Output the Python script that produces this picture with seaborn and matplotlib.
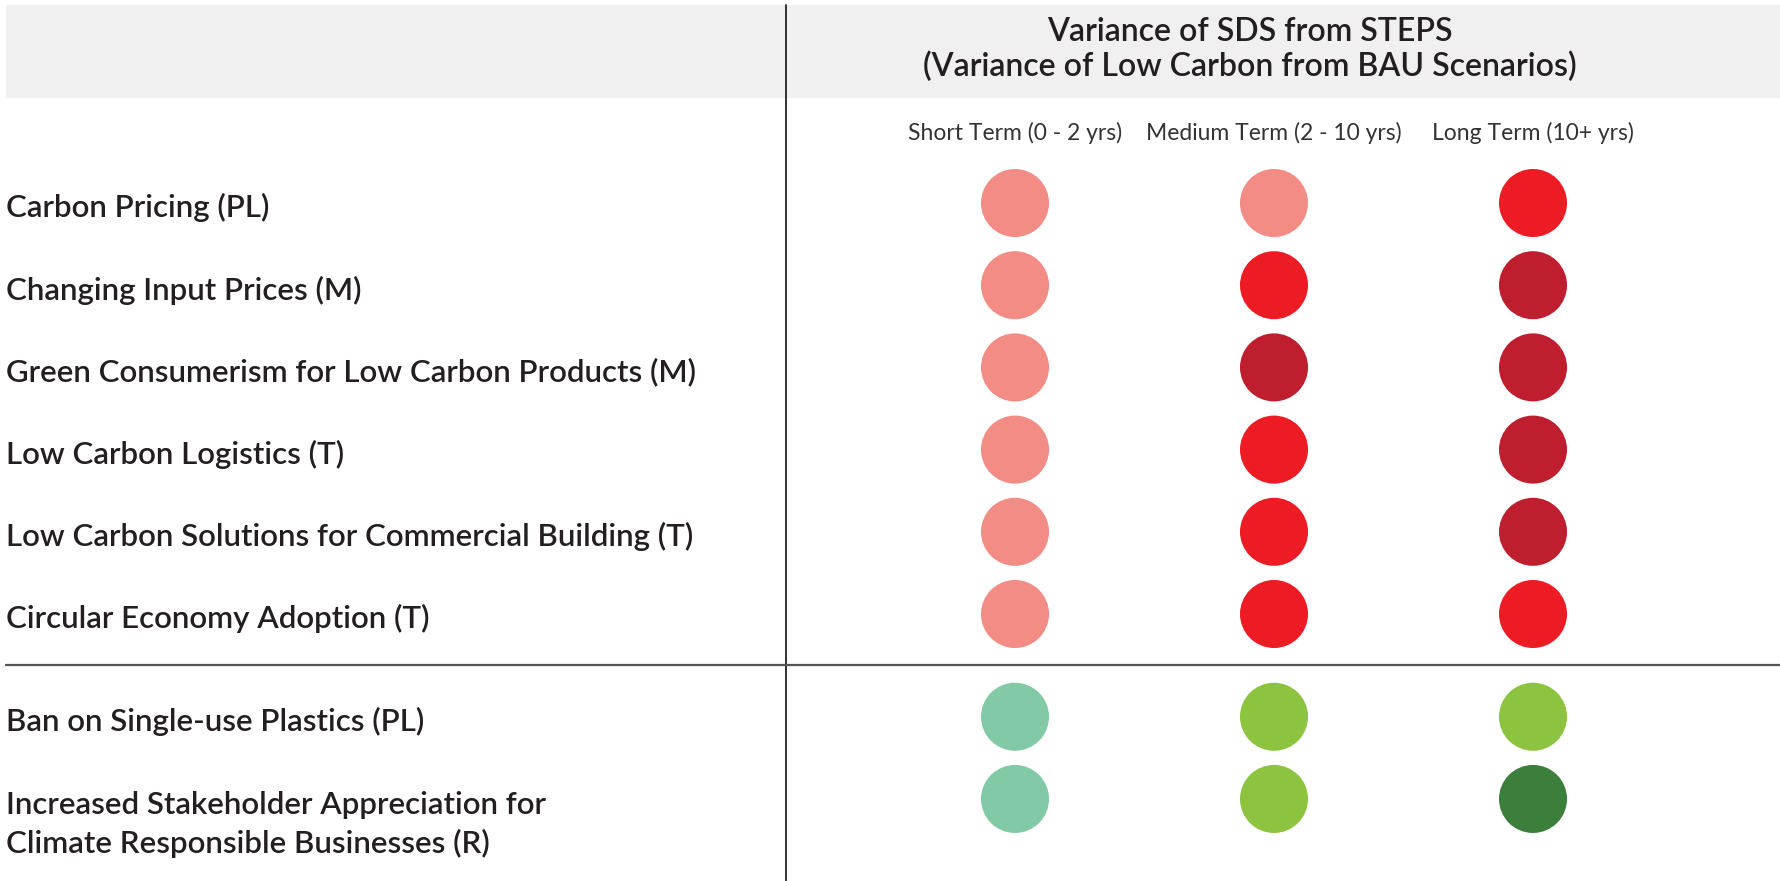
import matplotlib
matplotlib.use("Agg")
import matplotlib.pyplot as plt
from matplotlib.patches import Rectangle
import seaborn as sns
import pandas as pd

# ---------------- data ----------------
factors = [
    "Carbon Pricing (PL)",
    "Changing Input Prices (M)",
    "Green Consumerism for Low Carbon Products (M)",
    "Low Carbon Logistics (T)",
    "Low Carbon Solutions for Commercial Building (T)",
    "Circular Economy Adoption (T)",
    "Ban on Single-use Plastics (PL)",
    "Increased Stakeholder Appreciation for\nClimate Responsible Businesses (R)",
]
groups = ["risk"] * 6 + ["opportunity"] * 2
horizons = ["Short Term (0 - 2 yrs)", "Medium Term (2 - 10 yrs)", "Long Term (10+ yrs)"]
short_term = ["Low risk", "Low risk", "Low risk", "Low risk", "Low risk", "Low risk",
              "Low opportunity", "Low opportunity"]
medium_term = ["Low risk", "Medium risk", "High risk", "Medium risk", "Medium risk", "Medium risk",
               "Medium opportunity", "Medium opportunity"]
long_term = ["Medium risk", "High risk", "High risk", "High risk", "High risk", "Medium risk",
             "Medium opportunity", "High opportunity"]
level_colors = {
    "Low risk": "#F28C84",
    "Medium risk": "#ED1C24",
    "High risk": "#BE1E2D",
    "Low opportunity": "#82C9A5",
    "Medium opportunity": "#8CC43F",
    "High opportunity": "#3C7E3B",
}
title_lines = ["Variance of SDS from STEPS", "(Variance of Low Carbon from BAU Scenarios)"]

# ---------------- tidy table ----------------
GROUP_GAP = 0.25
rows = []
for i, (f, g) in enumerate(zip(factors, groups)):
    ypos = i + (GROUP_GAP if g == "opportunity" else 0.0)
    for j, vals in enumerate([short_term, medium_term, long_term]):
        rows.append({"factor": f, "row": ypos, "col": j, "level": vals[i]})
df = pd.DataFrame(rows)

# ---------------- style ----------------
sns.set_theme(style="white")
plt.rcParams["font.family"] = ["Lato", "DejaVu Sans"]
TXT = "#231F20"

W, H = 1780, 881
fig = plt.figure(figsize=(W / 100, H / 100), dpi=100)
ax = fig.add_axes([0, 0, 1, 1])

sns.scatterplot(data=df, x="col", y="row", hue="level", palette=level_colors,
                s=2400, linewidth=0, legend=False, ax=ax, zorder=3)

# map data space onto the canvas
col0, colstep = 1015, 259
row0, rowstep = 203, 82.2
ax.set_xlim(-col0 / colstep, (W - col0) / colstep)
ax.set_ylim((H - row0) / rowstep, -row0 / rowstep)
ax.set_axis_off()

# header band
ax.add_patch(Rectangle((6 / W, 1 - 98 / H), 1 - 6 / W, 93 / H, transform=ax.transAxes,
                       facecolor="#EFF0EF", edgecolor="none", zorder=0))
# divider lines
ax.plot([785.5 / W, 785.5 / W], [0, 1 - 5 / H], transform=ax.transAxes,
        color="#222222", lw=1.3, zorder=2)
sep = 5 + (1 + GROUP_GAP) / 2
ax.axhline(sep, xmin=6 / W, xmax=1, color="#555555", lw=1.6, zorder=2)

# title
ax.text(1250 / W, 1 - 32 / H, title_lines[0], transform=ax.transAxes, ha="center",
        va="center", fontsize=23, fontweight="semibold", color=TXT)
ax.text(1250 / W, 1 - 67 / H, title_lines[1], transform=ax.transAxes, ha="center",
        va="center", fontsize=23, fontweight="semibold", color=TXT)

# column headers
for j, h in enumerate(horizons):
    ax.text(j, -row0 / rowstep + 133 / rowstep, h, ha="center", va="center",
            fontsize=16.5, fontweight="normal", color="#333333")

# row labels
for i, (f, g) in enumerate(zip(factors, groups)):
    ypos = i + (GROUP_GAP if g == "opportunity" else 0.0)
    nlines = f.count("\n") + 1
    ax.text(6 / W, ypos + 0.06 + (nlines - 1) * 0.25, f, transform=ax.get_yaxis_transform(),
            ha="left", va="center", fontsize=22.5, fontweight="semibold", color=TXT,
            linespacing=1.4)

fig.savefig("out.png", dpi=100)
